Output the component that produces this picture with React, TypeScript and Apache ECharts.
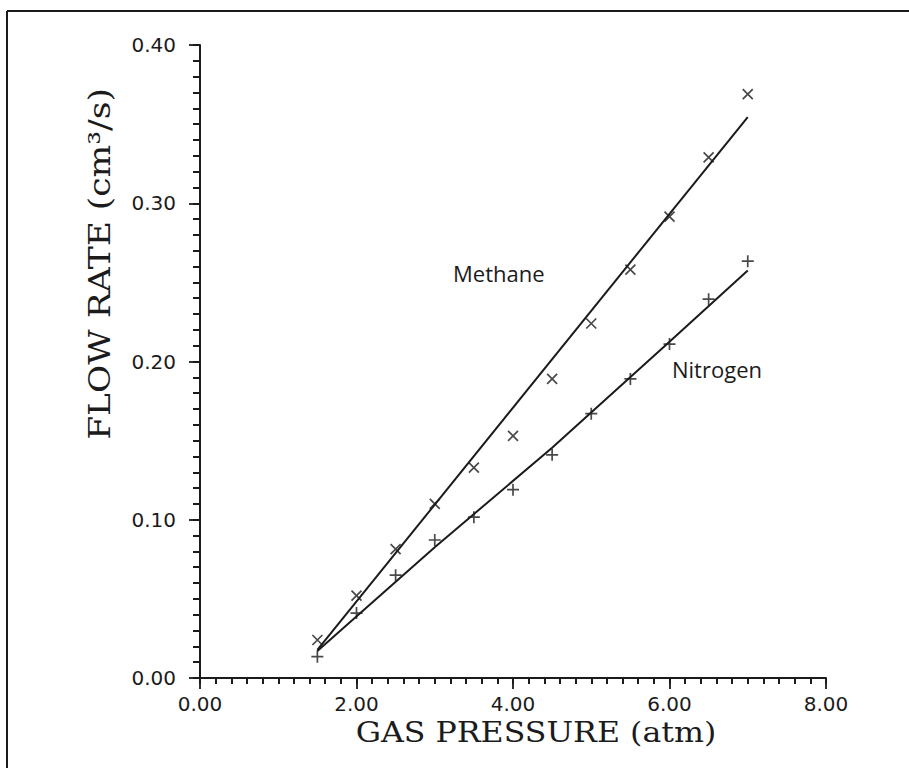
import React, { useEffect, useRef } from "react";
import * as echarts from "echarts";

// Data
const pressure = [1.5, 2.0, 2.5, 3.0, 3.5, 4.0, 4.5, 5.0, 5.5, 6.0, 6.5, 7.0];
const methaneFlow = [0.024, 0.052, 0.0815, 0.110, 0.133, 0.153, 0.189, 0.224, 0.258, 0.2916, 0.329, 0.369];
const nitrogenFlow = [0.0135, 0.041, 0.065, 0.0872, 0.1016, 0.119, 0.141, 0.167, 0.189, 0.211, 0.2394, 0.2634];

// Fitted lines as drawn in the picture
const methaneFitX = [1.5, 7.0];
const methaneFitY = [0.0177, 0.3545];
const nitrogenFitX = [1.5, 3.0, 4.5, 6.0, 7.0];
const nitrogenFitY = [0.017, 0.0826, 0.1455, 0.2125, 0.2575];

const xTicks = { min: 0, max: 8, interval: 2, minorSplit: 10 };
const yTicks = { min: 0, max: 0.4, interval: 0.1, minorSplit: 10 };

const xTitle = "GAS PRESSURE (atm)";
const yTitle = "FLOW RATE (cm³/s)";
const seriesNames = ["Methane", "Nitrogen"];

const INK = "#1b1b1b";

export default function App() {
  const ref = useRef<HTMLDivElement>(null);
  useEffect(() => {
    document.body.style.margin = "0";
    const chart = echarts.init(ref.current!, null, { renderer: "svg" });
    const pair = (xs: number[], ys: number[]) => xs.map((x, i) => [x, ys[i]]);
    const tickLabel = {
      color: INK,
      fontFamily: "DejaVu Sans",
      fontSize: 20,
    };
    const minorValues = (t: { min: number; max: number; interval: number; minorSplit: number }) => {
      const n = Math.round((t.max - t.min) / t.interval) * t.minorSplit;
      const step = t.interval / t.minorSplit;
      const out: number[] = [];
      for (let i = 0; i <= n; i++) out.push(+(t.min + i * step).toFixed(6));
      return out;
    };
    chart.setOption({
      animation: false,
      backgroundColor: "#ffffff",
      grid: { left: 200, top: 45, right: 83, bottom: 90 },
      xAxis: [
        {
          type: "value",
          position: "bottom",
          min: xTicks.min,
          max: xTicks.max,
          interval: xTicks.interval,
          splitLine: { show: false },
          axisLine: { show: true, onZero: false, lineStyle: { color: INK, width: 2 } },
          axisTick: { show: true, inside: false, length: 11, lineStyle: { color: INK, width: 1.8 } },
          axisLabel: { ...tickLabel, margin: 16, formatter: (v: number) => v.toFixed(2) },
        },
        {
          type: "value",
          position: "bottom",
          min: xTicks.min,
          max: xTicks.max,
          interval: xTicks.interval,
          splitLine: { show: false },
          axisLine: { show: false },
          axisTick: {
            show: true,
            inside: false,
            length: 6,
            customValues: minorValues(xTicks),
            lineStyle: { color: INK, width: 2 },
          },
          axisLabel: { show: false },
        },
      ],
      yAxis: [
        {
          type: "value",
          position: "left",
          min: yTicks.min,
          max: yTicks.max,
          interval: yTicks.interval,
          splitLine: { show: false },
          axisLine: { show: true, onZero: false, lineStyle: { color: INK, width: 2 } },
          axisTick: { show: true, inside: false, length: 11, lineStyle: { color: INK, width: 1.8 } },
          axisLabel: { ...tickLabel, margin: 24, formatter: (v: number) => v.toFixed(2) },
        },
        {
          type: "value",
          position: "left",
          min: yTicks.min,
          max: yTicks.max,
          interval: yTicks.interval,
          splitLine: { show: false },
          axisLine: { show: false },
          axisTick: {
            show: true,
            inside: false,
            length: 7,
            customValues: minorValues(yTicks),
            lineStyle: { color: INK, width: 2 },
          },
          axisLabel: { show: false },
        },
      ],
      graphic: [
        { type: "line", shape: { x1: 7, y1: 11, x2: 909, y2: 11 }, style: { stroke: INK, lineWidth: 2 } },
        { type: "line", shape: { x1: 7, y1: 11, x2: 7, y2: 768 }, style: { stroke: INK, lineWidth: 2 } },
        {
          type: "text",
          x: 536,
          y: 732,
          scaleX: 1.13,
          style: {
            text: xTitle,
            fontFamily: "DejaVu Serif",
            fontSize: 28,
            fill: INK,
            align: "center",
            verticalAlign: "middle",
          },
        },
        {
          type: "text",
          x: 100,
          y: 264,
          rotation: Math.PI / 2,
          scaleX: 1.15,
          style: {
            text: yTitle,
            fontFamily: "DejaVu Serif",
            fontSize: 30,
            fill: INK,
            align: "center",
            verticalAlign: "middle",
          },
        },
        {
          type: "text",
          x: 453,
          y: 273,
          style: { text: seriesNames[0], fontFamily: "Open Sans", fontSize: 22, fill: INK, align: "left", verticalAlign: "middle" },
        },
        {
          type: "text",
          x: 672,
          y: 369,
          style: { text: seriesNames[1], fontFamily: "Open Sans", fontSize: 22, fill: INK, align: "left", verticalAlign: "middle" },
        },
      ],
      series: [
        {
          name: seriesNames[0] + " fit",
          type: "line",
          data: pair(methaneFitX, methaneFitY),
          showSymbol: false,
          symbol: "none",
          lineStyle: { color: INK, width: 2 },
          silent: true,
        },
        {
          name: seriesNames[1] + " fit",
          type: "line",
          data: pair(nitrogenFitX, nitrogenFitY),
          showSymbol: false,
          symbol: "none",
          lineStyle: { color: INK, width: 2 },
          silent: true,
        },
        {
          name: seriesNames[0],
          type: "scatter",
          data: pair(pressure, methaneFlow),
          symbol: "path://M0,0L10,10M10,0L0,10",
          symbolSize: 10,
          itemStyle: { color: "none", borderColor: INK, borderWidth: 1.7 },
        },
        {
          name: seriesNames[1],
          type: "scatter",
          data: pair(pressure, nitrogenFlow),
          symbol: "path://M5,0L5,10M0,5L10,5",
          symbolSize: 12,
          itemStyle: { color: "none", borderColor: INK, borderWidth: 1.7 },
        },
      ],
    });
    return () => chart.dispose();
  }, []);
  return <div ref={ref} style={{ width: 909, height: 768 }} />;
}
